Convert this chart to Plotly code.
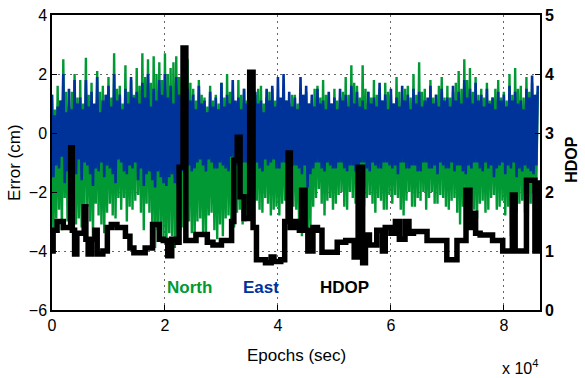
import plotly.graph_objects as go

# Epoch sampling (seconds) for the error series
epochs = list(range(0, 86001, 250))

north_cm = [
    1.3, -3.7, 0.8, -2.9, 1.6, -2.6, 1.1, -3.3, 2.5, -2.2, 1.4, -3.0, 0.9, -2.5, 1.4, -2.3, 2.0, -3.1, 1.2, -2.9,
    1.8, -3.2, 1.0, -2.6, 2.55, -2.5, 1.3, -3.0, 1.7, -3.5, 0.9, -2.4, 2.1, -2.8, 1.4, -3.1, 1.6, -3.4, 1.1, -2.7,
    1.9, -2.4, 1.2, -2.8, 2.7, -2.9, 1.5, -2.2, 1.6, -2.6, 1.0, -2.2, 2.3, -3.0, 1.4, -2.5, 1.8, -2.6, 1.3, -2.3,
    2.2, -2.1, 1.6, -2.7, 2.7, -3.3, 1.9, -2.4, 2.5, -2.7, 1.7, -3.1, 2.6, -3.9, 2.0, -3.3, 2.4, -3.4, 1.8, -3.7,
    2.7, -4.1, 2.0, -3.4, 2.2, -3.5, 2.4, -3.9, 2.6, -3.8, 1.9, -3.3, 2.0, -3.2, 2.5, -3.6, 2.5, -3.0, 1.7, -3.4,
    1.5, -3.7, 1.1, -3.0, 1.8, -2.9, 1.3, -3.4, 1.2, -3.5, 0.9, -2.8, 1.6, -2.7, 1.1, -3.3, 1.3, -3.6, 1.0, -3.1,
    1.7, -3.5, 1.2, -2.9, 2.0, -2.8, 1.4, -3.3, 1.4, -3.2, 1.0, -2.7, 1.8, -2.6, 1.3, -3.1, 1.5, -3.0, 1.1, -2.8,
    1.8, -2.8, 1.1, -2.4, 1.3, -2.3, 1.5, -2.6, 1.6, -2.7, 1.0, -2.2, 1.2, -2.4, 1.4, -2.8, 1.5, -2.6, 1.1, -2.5,
    1.2, -2.8, 0.9, -2.4, 1.4, -2.3, 1.1, -2.7, 1.0, -3.0, 1.3, -2.5, 1.3, -2.6, 1.0, -3.2, 1.5, -3.5, 1.2, -3.1,
    1.4, -3.9, 1.0, -3.2, 1.1, -2.5, 1.5, -2.2, 1.6, -1.9, 1.2, -2.4, 1.8, -2.8, 1.3, -2.3, 1.3, -2.2, 1.0, -2.6,
    1.5, -2.4, 1.1, -2.1, 1.2, -2.0, 1.4, -2.5, 1.9, -2.6, 1.3, -2.0, 2.3, -2.2, 1.7, -2.4, 1.6, -1.9, 1.2, -2.3,
    2.3, -2.5, 1.5, -2.2, 1.4, -2.1, 1.2, -2.4, 1.8, -2.7, 1.3, -2.2, 1.5, -2.3, 1.1, -2.6, 1.7, -2.6, 1.4, -2.1,
    1.3, -2.4, 1.0, -2.1, 1.9, -2.2, 1.4, -2.6, 1.1, -2.8, 1.5, -2.3, 1.6, -2.0, 1.2, -2.5, 2.0, -2.5, 1.3, -2.2,
    2.4, -2.3, 1.4, -2.0, 1.5, -2.6, 1.1, -2.2, 1.8, -2.0, 1.2, -2.4, 1.3, -2.4, 1.6, -2.1, 1.9, -2.2, 1.2, -2.5,
    1.6, -2.6, 1.2, -2.3, 1.4, -2.2, 1.7, -2.7, 2.1, -3.1, 1.5, -2.5, 2.5, -2.4, 1.8, -2.9, 2.2, -2.8, 1.4, -2.6,
    1.9, -2.9, 1.3, -2.4, 1.5, -2.3, 1.2, -2.7, 1.7, -2.6, 1.1, -2.2, 1.2, -2.1, 1.5, -2.6, 1.8, -2.5, 1.2, -2.3,
    1.4, -2.8, 1.1, -2.5, 2.0, -3.5, 1.3, -3.0, 2.2, -2.7, 1.5, -2.4, 1.6, -2.3, 1.2, -2.7, 1.9, -2.9, 1.4, -2.4,
    1.7, -2.0, 1.2, -1.8, 1.4,
]

east_cm = [
    1.3, -1.5, 0.6, -1.1, 0.9, -1.2, 1.1, -0.8, 2.0, -1.7, 0.7, -1.3, 1.5, -1.0, 0.8, -1.2, 1.8, -1.4, 1.0, -0.9,
    1.2, -1.6, 0.8, -1.0, 1.8, -1.1, 0.9, -1.4, 1.4, -1.8, 1.0, -1.2, 1.9, -1.3, 0.7, -1.0, 1.1, -1.5, 1.3, -1.1,
    1.6, -1.2, 0.9, -1.4, 2.0, -1.7, 1.1, -0.9, 1.3, -1.0, 0.8, -1.3, 1.5, -1.4, 1.0, -1.1, 1.9, -1.2, 1.2, -1.0,
    1.4, -1.6, 1.0, -1.2, 1.7, -1.8, 1.2, -1.4, 2.0, -1.3, 0.9, -1.6, 1.5, -1.85, 1.1, -1.3, 1.8, -1.5, 1.3, -1.7,
    2.0, -1.8, 1.2, -1.5, 1.6, -1.4, 1.0, -1.7, 1.9, -1.85, 1.3, -1.2, 1.2, -1.3, 0.9, -1.5, 1.5, -1.1, 1.1, -1.3,
    1.3, -1.2, 0.8, -1.0, 1.6, -0.9, 1.0, -1.1, 1.1, -1.3, 0.7, -0.9, 1.4, -1.0, 0.9, -1.2, 1.2, -1.2, 0.8, -1.0,
    1.7, -1.1, 0.9, -1.2, 1.3, -1.3, 1.0, -0.8, 1.8, -0.9, 1.1, -1.1, 1.2, -1.2, 0.8, -1.0, 1.5, -1.0, 1.0, -1.2,
    1.2, -1.6, 0.8, -1.1, 1.4, -1.0, 1.0, -1.2, 1.1, -1.3, 0.7, -0.9, 1.5, -1.1, 1.1, -1.0, 1.6, -0.9, 0.9, -1.2,
    1.9, -1.2, 1.2, -1.0, 2.0, -1.0, 1.1, -1.3, 1.4, -1.3, 0.9, -1.1, 1.2, -1.1, 0.8, -1.2, 1.9, -1.4, 1.3, -1.1,
    1.6, -1.85, 1.0, -1.4, 1.3, -1.2, 0.9, -1.0, 1.5, -1.0, 1.0, -1.2, 1.1, -1.3, 0.8, -1.0, 1.4, -1.1, 1.0, -1.2,
    1.2, -1.2, 0.8, -1.0, 1.5, -1.0, 1.1, -1.2, 1.3, -1.3, 0.9, -1.1, 1.6, -1.1, 1.0, -1.3, 1.4, -1.4, 0.9, -1.0,
    1.1, -1.0, 0.8, -1.2, 1.4, -1.3, 1.0, -1.0, 1.2, -1.1, 0.9, -1.2, 1.7, -1.2, 1.1, -1.0, 1.3, -1.0, 0.8, -1.1,
    1.5, -1.2, 1.0, -1.1, 1.2, -1.4, 0.9, -1.0, 1.6, -1.0, 1.1, -1.2, 1.3, -1.2, 0.8, -1.1, 1.5, -1.1, 1.0, -1.3,
    1.4, -1.3, 0.9, -1.0, 1.1, -1.0, 1.2, -1.2, 1.6, -1.2, 1.0, -1.1, 1.3, -1.4, 0.9, -1.0, 1.5, -1.1, 1.1, -1.2,
    1.2, -1.2, 0.9, -1.0, 1.6, -1.3, 1.1, -1.1, 1.4, -1.1, 1.0, -1.3, 1.8, -1.4, 1.2, -1.1, 1.5, -1.2, 1.0, -1.0,
    1.7, -1.0, 1.1, -1.2, 1.3, -1.3, 0.9, -1.0, 1.5, -1.2, 1.0, -1.1, 1.2, -1.5, 0.8, -1.2, 1.4, -1.1, 1.1, -1.0,
    1.3, -1.4, 0.9, -1.1, 1.6, -1.2, 1.1, -1.0, 1.4, -1.5, 1.0, -1.2, 1.1, -1.3, 0.8, -1.1, 1.5, -1.2, 1.2, -1.3,
    1.95, -1.4, 1.3, -1.1, 1.6,
]

# HDOP step series: epochs (seconds) and values
hdop_epochs = [
    0, 200, 900, 2000, 3300, 3600, 4000, 4400, 5000, 5700,
    6000, 6400, 7000, 7600, 8000, 9000, 9800, 10500, 11500, 13000,
    13800, 14500, 16500, 17800, 19000, 19700, 20500, 21200, 22200, 22500,
    23200, 23700, 25500, 27500, 28500, 30000, 31800, 32200, 32800, 33300,
    34000, 35000, 35600, 36200, 37800, 38800, 39300, 40500, 41200, 41800,
    42200, 43000, 43800, 44200, 44800, 45300, 46200, 47000, 47800, 50500,
    52000, 53500, 54200, 55000, 55500, 56200, 57500, 58500, 59000, 60000,
    60800, 61500, 62500, 63200, 64000, 66400, 69900, 71700, 73300, 74000,
    74500, 75000, 75800, 78000, 79800, 81500, 82000, 84000, 85500, 86200,
]
hdop = [
    1.0, 1.35, 1.5, 1.4, 2.75, 1.35, 0.95, 1.3, 1.3, 1.75,
    1.2, 0.95, 1.2, 1.35, 0.95, 1.0, 1.4, 1.45, 1.4, 1.25,
    1.05, 0.97, 1.05, 1.45, 1.2, 1.18, 0.92, 1.2, 1.15, 2.42,
    4.44, 1.18, 1.28, 1.15, 1.1, 1.18, 1.5, 2.54, 2.93, 1.92,
    1.55, 4.03, 1.4, 0.85, 0.8, 0.9, 0.82, 0.85, 1.5, 2.66,
    1.4, 1.5, 1.35, 2.03, 1.35, 1.0, 1.4, 1.35, 0.98, 1.15,
    1.18, 0.9, 2.42, 0.8, 1.27, 1.1, 1.35, 1.0, 1.4, 1.3,
    1.5, 1.2, 1.5, 1.3, 1.33, 1.18, 0.85, 1.18, 2.03, 1.4,
    1.64, 1.3, 1.27, 1.18, 1.0, 1.95, 1.0, 2.2, 1.0, 2.2,
]

x_tickvals = [0, 20000, 40000, 60000, 80000]
x_ticktext = ["0", "2", "4", "6", "8"]
y_ticks = [-6, -4, -2, 0, 2, 4]
y2_ticks = [0, 1, 2, 3, 4, 5]

GREEN = "#009933"
BLUE = "#003399"
FONT = "Liberation Sans"
GRID_DASH = "1.5px,4.5px"

fig = go.Figure()
fig.add_trace(go.Scatter(x=epochs, y=north_cm, mode="lines",
                         line=dict(color=GREEN, width=2.4, simplify=False),
                         showlegend=False))
fig.add_trace(go.Scatter(x=epochs, y=east_cm, mode="lines",
                         line=dict(color=BLUE, width=2.6, simplify=False),
                         showlegend=False))
fig.add_trace(go.Scatter(x=hdop_epochs, y=hdop, mode="lines", yaxis="y2",
                         line=dict(color="black", width=5.5, shape="hv"),
                         showlegend=False))

fig.update_layout(
    width=585, height=378,
    margin=dict(l=52, r=45, t=15, b=68, autoexpand=False),
    paper_bgcolor="white", plot_bgcolor="white",
    font=dict(family=FONT, size=16, color="black"),
    xaxis=dict(
        range=[0, 86400], tickvals=x_tickvals, ticktext=x_ticktext,
        ticks="inside", ticklen=5, tickcolor="black",
        showline=True, linecolor="black", linewidth=1.5, mirror=True,
        showgrid=True, gridcolor="#666", griddash=GRID_DASH, gridwidth=1,
        zeroline=False, automargin=False,
    ),
    yaxis=dict(
        range=[-6, 4], tickvals=y_ticks,
        ticks="inside", ticklen=5, tickcolor="black",
        showline=True, linecolor="black", linewidth=1.5,
        showgrid=True, gridcolor="#666", griddash=GRID_DASH, gridwidth=1,
        zeroline=False, automargin=False,
    ),
    yaxis2=dict(
        range=[0, 5], tickvals=y2_ticks, overlaying="y", side="right",
        ticks="inside", ticklen=5, tickcolor="black",
        showline=True, linecolor="black", linewidth=1.5,
        showgrid=False, zeroline=False, automargin=False,
        tickfont=dict(weight="bold", size=16),
    ),
    annotations=[
        dict(x=0.5, y=-0.155, xref="paper", yref="paper", yanchor="middle",
             text="Epochs (sec)", showarrow=False, font=dict(size=17)),
        dict(x=-0.077, y=0.5, xref="paper", yref="paper", xanchor="center",
             text="Error (cm)", textangle=-90, showarrow=False,
             font=dict(size=17)),
        dict(x=1.064, y=0.51, xref="paper", yref="paper", xanchor="center",
             text="<b>HDOP</b>", textangle=-90, showarrow=False,
             font=dict(size=16)),
        dict(x=24400, y=-5.25, xref="x", yref="y", text="<b>North</b>",
             showarrow=False, font=dict(color=GREEN, size=17)),
        dict(x=37000, y=-5.25, xref="x", yref="y", text="<b>East</b>",
             showarrow=False, font=dict(color=BLUE, size=17)),
        dict(x=51700, y=-5.25, xref="x", yref="y", text="<b>HDOP</b>",
             showarrow=False, font=dict(color="black", size=17)),
        dict(x=1.0, y=-0.235, xref="paper", yref="paper", xanchor="right",
             text="x 10<sup>4</sup>", showarrow=False,
             font=dict(size=16)),
    ],
)

fig.write_html("out.html")
